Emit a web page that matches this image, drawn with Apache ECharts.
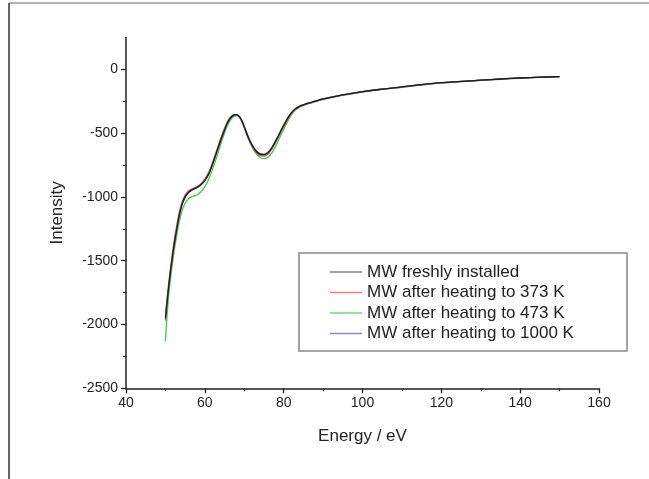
<!DOCTYPE html>
<html>
<head>
<meta charset="utf-8">
<script src="https://cdn.jsdelivr.net/npm/echarts@6/dist/echarts.min.js"></script>
<style>html,body{margin:0;padding:0;background:#fff;}#c{width:649px;height:479px;}</style>
</head>
<body>
<div id="c"></div>
<script>
var energy = [50, 50.5, 51, 52, 53, 54, 55, 56, 57, 58, 59, 60, 61, 62, 63, 64, 65, 66, 67, 68, 69, 70, 71, 72, 73, 74, 75, 76, 77, 78, 79, 80, 81, 82, 83, 84, 85, 86, 88, 90, 95, 100, 105, 110, 115, 120, 125, 130, 135, 140, 145, 150];
var freshly = [-1950, -1800, -1660, -1420, -1230, -1080, -1000, -960, -940, -925, -905, -870, -820, -740, -650, -560, -475, -405, -365, -355, -380, -450, -530, -595, -640, -665, -670, -655, -615, -560, -500, -440, -385, -340, -310, -290, -278, -268, -250, -232, -200, -175, -155, -138, -120, -105, -95, -85, -76, -68, -62, -57];
var heated373 = [-1930, -1770, -1630, -1390, -1200, -1060, -985, -950, -935, -920, -898, -860, -805, -725, -635, -545, -462, -395, -360, -355, -385, -458, -540, -605, -650, -675, -680, -665, -625, -570, -510, -450, -392, -345, -313, -292, -280, -270, -251, -233, -201, -176, -156, -139, -121, -106, -96, -86, -77, -69, -63, -58];
var heated473 = [-2130, -1900, -1720, -1470, -1280, -1130, -1050, -1010, -995, -985, -960, -920, -860, -780, -690, -590, -500, -425, -378, -362, -385, -455, -540, -610, -660, -690, -700, -690, -655, -600, -535, -470, -410, -355, -320, -298, -284, -273, -255, -237, -204, -179, -158, -141, -123, -108, -97, -87, -78, -70, -63, -58];
var heated1000 = [-1970, -1810, -1665, -1425, -1235, -1085, -1003, -962, -942, -927, -906, -871, -821, -741, -651, -561, -476, -406, -366, -356, -381, -449, -528, -592, -637, -660, -664, -650, -612, -558, -499, -439, -384, -340, -310, -290, -278, -268, -250, -232, -200, -175, -155, -138, -120, -105, -95, -85, -76, -68, -62, -57];
var seriesNames = ['MW freshly installed', 'MW after heating to 373 K', 'MW after heating to 473 K', 'MW after heating to 1000 K'];
var yMajorTicks = [-2500, -2000, -1500, -1000, -500, 0];
var yMinorTicks = [-2250, -1750, -1250, -750, -250];

function pairs(vals) { return energy.map(function (e, i) { return [e, vals[i]]; }); }
var colors = ['#1e1e1e', '#e05050', '#48c848', '#5a5aa8'];
var legendColors = ['#808080', '#e08080', '#70d870', '#8888c8'];
var allVals = [freshly, heated373, heated473, heated1000];
var drawOrder = [2, 1, 3, 0];

var chart = echarts.init(document.getElementById('c'), null, {renderer: 'canvas'});
var font = '"Liberation Sans", Arial, sans-serif';
var option = {
  animation: false,
  backgroundColor: '#fff',
  textStyle: {fontFamily: font},
  grid: {left: 126, right: 50, top: 37.4, bottom: 90.7, containLabel: false},
  xAxis: {
    type: 'value', min: 40, max: 160, interval: 20,
    name: 'Energy / eV', nameLocation: 'middle', nameGap: 40,
    nameTextStyle: {fontSize: 17, color: '#222', fontFamily: font},
    axisLine: {show: true, onZero: false, lineStyle: {color: '#222', width: 1.5}},
    axisTick: {show: true, length: 5, lineStyle: {color: '#222', width: 1.3}},
    minorTick: {show: true, splitNumber: 2, length: 3, lineStyle: {color: '#222', width: 1.2}},
    axisLabel: {fontSize: 14, color: '#222', margin: 8, fontFamily: font},
    splitLine: {show: false}
  },
  yAxis: [{
    type: 'value', min: -2500, max: 250, interval: 500,
    name: 'Intensity', nameLocation: 'middle', nameGap: 60, nameRotate: 90,
    nameTextStyle: {fontSize: 17, color: '#222', fontFamily: font},
    axisLine: {show: true, onZero: false, lineStyle: {color: '#222', width: 1.5}},
    axisTick: {show: true, length: 5, customValues: yMajorTicks, lineStyle: {color: '#222', width: 1.3}},
    axisLabel: {fontSize: 14, color: '#222', margin: 8, customValues: yMajorTicks, fontFamily: font,
      formatter: function (v) { return String(v); }},
    splitLine: {show: false}
  }, {
    type: 'value', min: -2500, max: 250, interval: 250, position: 'left',
    axisLine: {show: false, onZero: false},
    axisTick: {show: true, length: 3, customValues: yMinorTicks, lineStyle: {color: '#222', width: 1.2}},
    axisLabel: {show: false},
    splitLine: {show: false}
  }],
  legend: {
    orient: 'vertical', left: 330, top: 263.5, padding: 0,
    icon: 'rect', itemWidth: 32, itemHeight: 1.5, itemGap: 3.5,
    textStyle: {fontSize: 17, color: '#222', fontFamily: font},
    data: seriesNames
  },
  graphic: [
    {type: 'line', shape: {x1: 9, y1: 3, x2: 649, y2: 3}, style: {stroke: '#999', lineWidth: 1.5}, silent: true},
    {type: 'line', shape: {x1: 9, y1: 3, x2: 9, y2: 479}, style: {stroke: '#333', lineWidth: 1.5}, silent: true},
    {type: 'rect', shape: {x: 299, y: 253, width: 328, height: 98}, style: {stroke: '#888', fill: 'none', lineWidth: 1.5}, silent: true}
  ],
  series: drawOrder.map(function (i) {
    return {
      name: seriesNames[i], type: 'line', data: pairs(allVals[i]), smooth: 0.4,
      symbol: 'none', showSymbol: false,
      lineStyle: {color: colors[i], width: 1.3},
      itemStyle: {color: legendColors[i]}
    };
  })
};
chart.setOption(option);
</script>
</body>
</html>
